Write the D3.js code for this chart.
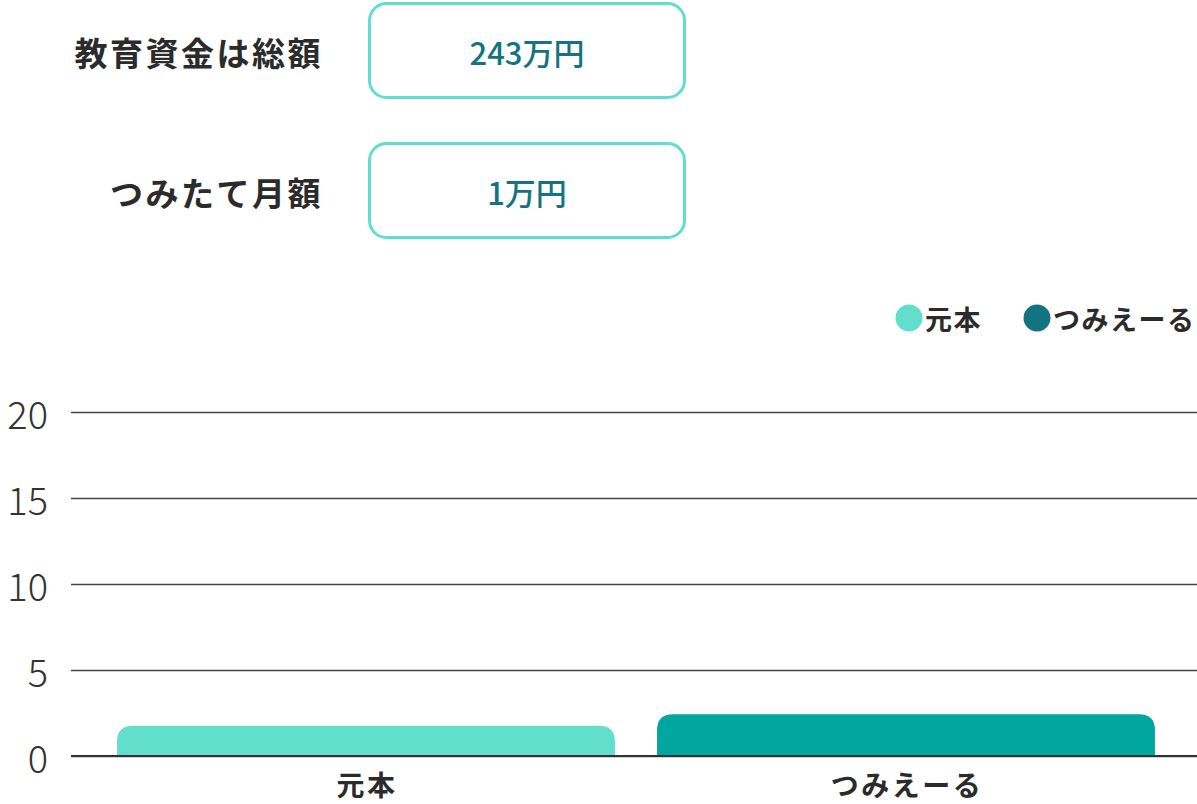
<!DOCTYPE html>
<html>
<head>
<meta charset="utf-8">
<script src="https://cdn.jsdelivr.net/npm/d3@7"></script>
<style>
  body { margin: 0; background: #fff; }
  svg { font-family: "Noto Sans CJK JP", "Noto Sans", sans-serif; }
  .grid line { stroke: #444; stroke-width: 1.5; }
  .grid .domain { display: none; }
  .ytick text { font-size: 38px; font-weight: 300; fill: #333; }
</style>
</head>
<body>
<div id="chart"></div>
<script>
  // values are in 百万円
  var categories = ["元本", "つみえーる"];
  var values = [1.76, 2.43];
  var barColors = ["#62dfcc", "#02a6a0"];
  var legendColors = ["#62dfcc", "#127480"];
  var yTicks = [0, 5, 10, 15, 20];

  var infoLabels = ["教育資金は総額", "つみたて月額"];
  var infoValues = ["243万円", "1万円"];

  var width = 1197, height = 804;

  var svg = d3.select("#chart").append("svg")
    .attr("width", width)
    .attr("height", height);

  // input rows at top
  var rows = svg.selectAll(".info")
    .data(infoLabels)
    .enter().append("g")
    .attr("class", "info")
    .attr("transform", function (d, i) { return "translate(0," + (i * 140) + ")"; });

  rows.append("text")
    .attr("x", 323)
    .attr("y", 52)
    .attr("text-anchor", "end")
    .attr("dominant-baseline", "central")
    .attr("font-size", 33)
    .attr("letter-spacing", 2.5)
    .attr("font-weight", 700)
    .attr("fill", "#2b2b2b")
    .text(function (d) { return d; });

  rows.append("rect")
    .attr("x", 369.5)
    .attr("y", 3.5)
    .attr("width", 315)
    .attr("height", 94)
    .attr("rx", 17)
    .attr("fill", "#fff")
    .attr("stroke", "#62dfcc")
    .attr("stroke-width", 3);

  rows.append("text")
    .attr("x", 527)
    .attr("y", 51)
    .attr("text-anchor", "middle")
    .attr("dominant-baseline", "central")
    .attr("font-size", 31)
    .attr("font-weight", 500)
    .attr("fill", "#127480")
    .text(function (d, i) { return infoValues[i]; });

  // scales
  var x = d3.scaleBand()
    .domain(categories)
    .range([96, 1176])
    .paddingInner(0.078)
    .paddingOuter(0.039);

  var y = d3.scaleLinear()
    .domain([0, 20])
    .range([756, 412]);

  // gridlines
  svg.append("g")
    .attr("class", "grid")
    .attr("transform", "translate(71,0)")
    .call(d3.axisRight(y).tickValues(yTicks).tickSize(width - 71).tickFormat(""));

  svg.append("g")
    .attr("class", "ytick")
    .selectAll("text")
    .data(yTicks)
    .enter().append("text")
    .attr("x", 48)
    .attr("y", function (d) { return y(d); })
    .attr("text-anchor", "end")
    .attr("dominant-baseline", "central")
    .text(function (d) { return d; });

  // bars with rounded top corners
  function topRounded(x0, y0, w, h, r) {
    r = Math.min(r, h, w / 2);
    return "M" + x0 + "," + (y0 + h) +
      "V" + (y0 + r) +
      "Q" + x0 + "," + y0 + " " + (x0 + r) + "," + y0 +
      "H" + (x0 + w - r) +
      "Q" + (x0 + w) + "," + y0 + " " + (x0 + w) + "," + (y0 + r) +
      "V" + (y0 + h) + "Z";
  }

  svg.selectAll(".bar")
    .data(values)
    .enter().append("path")
    .attr("class", "bar")
    .attr("fill", function (d, i) { return barColors[i]; })
    .attr("d", function (d, i) {
      return topRounded(x(categories[i]), y(d), x.bandwidth(), y(0) - y(d), 16);
    });

  // baseline on top of bars
  svg.append("line")
    .attr("x1", 71).attr("x2", width)
    .attr("y1", y(0)).attr("y2", y(0))
    .attr("stroke", "#333")
    .attr("stroke-width", 2);

  // x labels
  svg.append("g")
    .selectAll("text")
    .data(categories)
    .enter().append("text")
    .attr("x", function (d) { return x(d) + x.bandwidth() / 2 + 1; })
    .attr("y", 784)
    .attr("text-anchor", "middle")
    .attr("dominant-baseline", "central")
    .attr("font-size", 28)
    .attr("letter-spacing", 2.5)
    .attr("font-weight", 700)
    .attr("fill", "#2b2b2b")
    .text(function (d) { return d; });

  // legend
  var legendX = [909, 1037];
  var legend = svg.selectAll(".legend")
    .data(categories)
    .enter().append("g")
    .attr("class", "legend")
    .attr("transform", function (d, i) { return "translate(" + legendX[i] + ",318)"; });

  legend.append("circle")
    .attr("r", 13.5)
    .attr("fill", function (d, i) { return legendColors[i]; });

  legend.append("text")
    .attr("x", 16)
    .attr("y", 0)
    .attr("dominant-baseline", "central")
    .attr("font-size", 27)
    .attr("letter-spacing", 1.5)
    .attr("font-weight", 700)
    .attr("fill", "#2b2b2b")
    .text(function (d) { return d; });
</script>
</body>
</html>
